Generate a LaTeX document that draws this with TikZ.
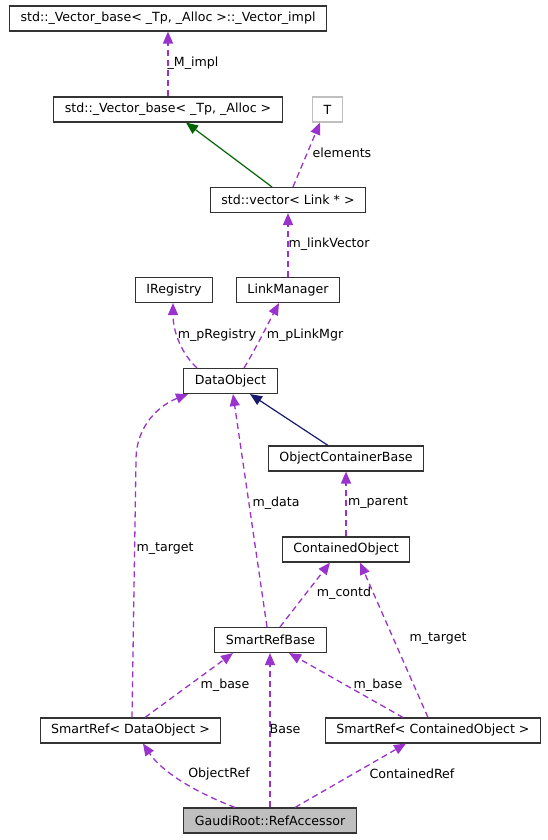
\documentclass[tikz,border=0pt]{standalone}
\usepackage{fontspec}
\setmainfont{DejaVu Sans}
\usetikzlibrary{arrows.meta}
\definecolor{usepurple}{RGB}{154,50,205}
\definecolor{inhgreen}{RGB}{0,100,0}
\definecolor{inhnavy}{RGB}{25,25,112}
\definecolor{boxgrey}{RGB}{191,191,191}
\begin{document}
\begin{tikzpicture}[x=1pt,y=-1pt,
    font=\fontsize{12.6}{15}\selectfont,
    cls/.style={draw=black!80,line width=1.1pt,rectangle,inner xsep=11pt,inner ysep=0pt,minimum height=25pt},
    usage/.style={usepurple,line width=1.3pt,dash pattern=on 6pt off 4pt,-{Triangle[length=12pt,width=10pt]}},
    inherit/.style={line width=1.2pt,-{Triangle[length=12pt,width=10pt]}},
    lbl/.style={inner sep=0pt}]
\useasboundingbox (0,0) rectangle (547,840);
% classes
\node[cls] (impl) at (168,18.5) {std::\_Vector\_base< \_Tp, \_Alloc >::\_Vector\_impl};
\node[cls] (vb) at (168,109.5) {std::\_Vector\_base< \_Tp, \_Alloc >};
\node[cls,draw=boxgrey] (t) at (327.5,109.5) {T};
\node[cls] (vec) at (288,200) {std::vector< Link * >};
\node[cls] (irg) at (174,290) {IRegistry};
\node[cls] (lm) at (288,290) {LinkManager};
\node[cls] (do) at (230.5,381) {DataObject};
\node[cls] (ocb) at (346,458.5) {ObjectContainerBase};
\node[cls] (co) at (346,549.5) {ContainedObject};
\node[cls] (srb) at (270.5,640) {SmartRefBase};
\node[cls] (sdo) at (130.5,730.5) {SmartRef< DataObject >};
\node[cls] (sco) at (433,730.5) {SmartRef< ContainedObject >};
\node[cls,fill=boxgrey] (ra) at (270,820.5) {GaudiRoot::RefAccessor};
% inheritance
\draw[inherit,inhgreen] ([xshift=-16pt]vec.north) -- ([xshift=18pt]vb.south);
\draw[inherit,inhnavy] ([xshift=-18pt]ocb.north) -- ([xshift=19.5pt]do.south);
% members
\draw[usage] (vb.north) -- (impl.south);
\draw[usage] ([xshift=5pt]vec.north) -- ([xshift=-7.5pt]t.south);
\draw[usage] (lm.north) -- (vec.south);
\draw[usage] ([xshift=-33.5pt]do.north) .. controls (180,352) and (173,330) .. ([xshift=-1pt]irg.south);
\draw[usage] ([xshift=13.5pt]do.north) .. controls (255,350) and (270,320) .. ([xshift=-9pt]lm.south);
\draw[usage] (co.north) -- (ocb.south);
\draw[usage] ([xshift=-3.5pt]srb.north) -- ([xshift=2.5pt]do.south);
\draw[usage] ([xshift=9.5pt]srb.north) -- ([xshift=-16pt]co.south);
\draw[usage] ([xshift=-5pt]sco.north) -- ([xshift=14pt]co.south);
\draw[usage] ([xshift=1.5pt]sdo.north) -- (136,460) .. controls (136,425) and (160,405) .. ([xshift=-42.5pt]do.south);
\draw[usage] ([xshift=14.5pt]sdo.north) -- ([xshift=-37.5pt]srb.south);
\draw[usage] ([xshift=-30pt]sco.north) -- ([xshift=18.5pt]srb.south);
\draw[usage] (ra.north) -- (ra.north |- srb.south);
\draw[usage] ([xshift=-35pt]ra.north) .. controls (195,792) and (162,772) .. ([xshift=12.5pt]sdo.south);
\draw[usage] ([xshift=25pt]ra.north) -- ([xshift=-27pt]sco.south);
% labels
\node[lbl] (limpl) at (193,63) {\_M\_impl};
\node[lbl] (lelem) at (342,153) {elements};
\node[lbl] (llink) at (329,244) {m\_linkVector};
\node[lbl] (lreg) at (217,335) {m\_pRegistry};
\node[lbl] (lmgr) at (305,335) {m\_pLinkMgr};
\node[lbl] (ltgtl) at (165,549) {m\_target};
\node[lbl] (ldata) at (276,503) {m\_data};
\node[lbl] (lpar) at (378,503) {m\_parent};
\node[lbl] (lcontd) at (344,593) {m\_contd};
\node[lbl] (ltgtr) at (438,639) {m\_target};
\node[lbl] (lbasel) at (225,685) {m\_base};
\node[lbl] (lbaser) at (378,685) {m\_base};
\node[lbl] (lbase) at (285,729) {Base};
\node[lbl] (lobj) at (219,774) {ObjectRef};
\node[lbl] (lcont) at (412,774) {ContainedRef};
\end{tikzpicture}
\end{document}
